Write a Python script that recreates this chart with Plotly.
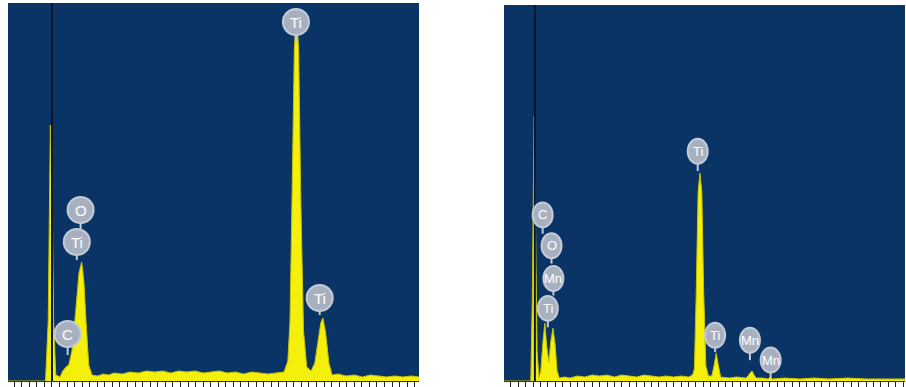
import plotly.graph_objects as go

# ---- data (energy in keV, intensity in counts) ----
left_kev = [-0.82, -0.12, -0.07, -0.03, 0.0, 0.03, 0.07, 0.15, 0.2, 0.26, 0.31, 0.37, 0.44, 0.5, 0.55,
            0.59, 0.63, 0.68, 0.74, 0.85, 0.95, 1.05, 1.15, 1.3, 1.45, 1.6, 1.75, 1.9, 2.05, 2.2, 2.35,
            2.5, 2.65, 2.8, 2.95, 3.1, 3.25, 3.4, 3.55, 3.7, 3.85, 4.0, 4.15, 4.3, 4.37, 4.41, 4.45,
            4.49, 4.53, 4.57, 4.61, 4.66, 4.72, 4.8, 4.87, 4.93, 4.98, 5.02, 5.07, 5.13, 5.19, 5.3,
            5.45, 5.6, 5.75, 5.9, 6.05, 6.2, 6.35, 6.5, 6.65, 6.8]
left_counts = [0, 0, 60, 256, 200, 60, 6, 4, 10, 14, 16, 30, 70, 108, 119,
               100, 60, 16, 6, 5, 7, 6, 8, 7, 9, 8, 10, 9, 10, 8, 10,
               9, 10, 8, 9, 10, 8, 9, 7, 9, 8, 7, 8, 9, 20, 60, 190,
               330, 373, 330, 180, 50, 14, 10, 18, 42, 58, 63, 48, 18, 6, 7,
               5, 6, 4, 6, 5, 4, 5, 4, 5, 4]

right_kev = [-0.79, -0.06, -0.02, 0.03, 0.07, 0.11, 0.16, 0.21, 0.27, 0.32, 0.37, 0.43, 0.48, 0.54, 0.6,
             0.65, 0.71, 0.85, 1.0, 1.2, 1.4, 1.6, 1.8, 2.0, 2.2, 2.4, 2.6, 2.8, 3.0, 3.2, 3.4, 3.6,
             3.8, 4.0, 4.2, 4.31, 4.36, 4.41, 4.46, 4.51, 4.56, 4.61, 4.67, 4.74, 4.83, 4.89, 4.95,
             5.01, 5.07, 5.3, 5.5, 5.75, 5.81, 5.86, 5.92, 5.97, 6.03, 6.2, 6.35, 6.41, 6.47, 6.8,
             7.2, 7.6, 8.0, 8.5, 9.0, 9.5, 10.05]
right_counts = [0, 0, 80, 266, 150, 30, 3, 10, 40, 58, 35, 19, 40, 53, 35,
                10, 3, 4, 3, 5, 4, 6, 5, 6, 4, 6, 5, 4, 6, 5, 4, 5,
                4, 5, 4, 6, 12, 90, 190, 209, 190, 90, 15, 5, 5, 15, 28,
                15, 4, 3, 4, 3, 5, 8, 10, 6, 3, 3, 2, 4, 2, 3,
                2, 3, 2, 3, 2, 2, 2]

# peak labels: element, energy (keV), badge height, pin bottom height
left_label_el = ["O", "Ti", "C", "Ti", "Ti"]
left_label_kev = [0.53, 0.46, 0.29, 4.52, 4.96]
left_label_y = [171, 139, 47, 359, 83]
left_label_pin = [150, 121, 26, 340, 66]

right_label_el = ["C", "O", "Mn", "Ti", "Ti", "Ti", "Mn", "Mn"]
right_label_kev = [0.26, 0.50, 0.55, 0.40, 4.45, 4.92, 5.86, 6.42]
right_label_y = [167, 136, 103, 73, 231, 46, 41, 21]
right_label_pin = [148, 118, 86, 54, 211, 29, 21, 3]

cursor_kev = [0.0, 0.05]

BLUE = "#0b3466"
YELLOW = "#f4f00c"
EDGE = "#c9c200"
BADGE = "#a8b0c0"
BADGE_EDGE = "#c4cad6"

fig = go.Figure()
fig.add_trace(go.Scatter(x=left_kev, y=left_counts, mode="lines", fill="tozeroy",
                         fillcolor=YELLOW, line=dict(color=EDGE, width=1),
                         xaxis="x", yaxis="y", hoverinfo="skip", showlegend=False))
fig.add_trace(go.Scatter(x=right_kev, y=right_counts, mode="lines", fill="tozeroy",
                         fillcolor=YELLOW, line=dict(color=EDGE, width=1),
                         xaxis="x2", yaxis="y2", hoverinfo="skip", showlegend=False))

shapes = []
annotations = []

# cursor lines
for xr, yr, c in (("x", "y", cursor_kev[0]), ("x2", "y2", cursor_kev[1])):
    shapes.append(dict(type="line", xref=xr, yref=yr + " domain", x0=c, x1=c, y0=0, y1=1,
                       line=dict(color="#0a1628", width=2), layer="above"))


def add_labels(els, kevs, ys, pins, xr, yr, w, h, fs):
    for e, k, y, p in zip(els, kevs, ys, pins):
        shapes.append(dict(type="line", xref=xr, yref=yr, x0=k, x1=k, y0=p, y1=y,
                           line=dict(color=BADGE_EDGE, width=2), layer="above"))
    for e, k, y, p in zip(els, kevs, ys, pins):
        shapes.append(dict(type="circle", xref=xr, yref=yr, xsizemode="pixel", ysizemode="pixel",
                           xanchor=k, yanchor=y, x0=-w / 2, x1=w / 2, y0=-h / 2, y1=h / 2,
                           fillcolor=BADGE, line=dict(color=BADGE_EDGE, width=2), layer="above"))
        annotations.append(dict(x=k, y=y, xref=xr, yref=yr, text=e, showarrow=False,
                                font=dict(family="Liberation Sans, Arial", size=fs, color="white")))


add_labels(left_label_el, left_label_kev, left_label_y, left_label_pin, "x", "y", 26, 26, 15)
add_labels(right_label_el, right_label_kev, right_label_y, right_label_pin, "x2", "y2", 20, 25, 13)

W, H = 906, 387
ybot = (H - 381) / H
ytop = (H - 3) / H

axis_x = dict(showgrid=False, zeroline=False, showticklabels=False, ticks="outside", ticklen=5,
              tickcolor="#222222", tickwidth=1, showline=True, linecolor="#333333", linewidth=1)
axis_y = dict(showgrid=False, zeroline=False, showticklabels=False, ticks="", range=[0, 378],
              showline=False)

fig.update_layout(
    width=W, height=H,
    margin=dict(l=0, r=0, t=0, b=0),
    paper_bgcolor="white",
    plot_bgcolor=BLUE,
    showlegend=False,
    xaxis=dict(axis_x, domain=[8 / W, 419 / W], range=[-0.815, 6.8], tick0=0, dtick=0.14, anchor="y"),
    yaxis=dict(axis_y, domain=[ybot, ytop], anchor="x"),
    xaxis2=dict(axis_x, domain=[504 / W, 905 / W], range=[-0.784, 10.05], tick0=0, dtick=0.2, anchor="y2"),
    yaxis2=dict(axis_y, domain=[ybot, (H - 5) / H], anchor="x2"),
    shapes=shapes,
    annotations=annotations,
)

fig.write_html("out.html")
